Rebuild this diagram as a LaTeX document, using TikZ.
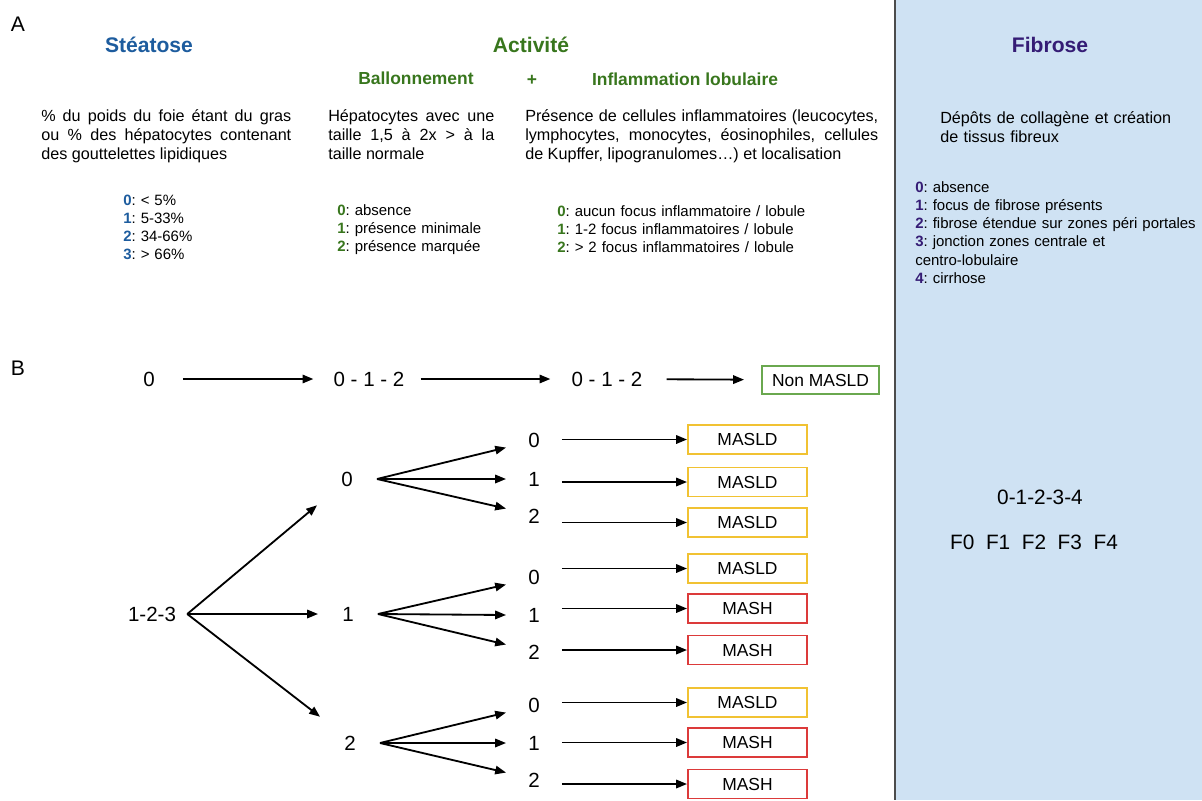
\documentclass[tikz,border=0pt]{standalone}
\usepackage{fontspec}
\setmainfont{Liberation Sans}
\usetikzlibrary{arrows.meta}
\frenchspacing

\definecolor{steablue}{HTML}{1D5C9E}
\definecolor{actgreen}{HTML}{38761D}
\definecolor{fibpurple}{HTML}{351C75}
\definecolor{panelblue}{HTML}{CFE2F3}
\definecolor{nonframe}{HTML}{6AA84F}
\definecolor{masldframe}{HTML}{F1C232}
\definecolor{mashframe}{HTML}{DC3A3A}
\newcommand{\grade}[2]{\textcolor{#1}{\textbf{#2}}}

\begin{document}
\begin{tikzpicture}[
 title/.style ={font=\fontsize{15}{18}\selectfont\bfseries, inner sep=0pt},
 subtitle/.style ={font=\fontsize{12.4}{15}\selectfont\bfseries, text=actgreen, inner sep=0pt},
 body/.style ={font=\fontsize{11.5}{13.7}\selectfont, inner sep=0pt, anchor=base west, align=justify},
 grades/.style ={font=\fontsize{10.65}{12.9}\selectfont, inner sep=0pt, anchor=base west, align=left, text width=8cm},
 score/.style ={font=\fontsize{14.6}{17}\selectfont, inner sep=0pt},
 branch/.style ={score, inner xsep=.6cm, minimum height=1.3cm},
 leaf/.style ={score, inner xsep=.55cm},
 verdict/.style ={font=\fontsize{12.4}{15}\selectfont, draw=#1, line width=1.4pt, minimum width=2.975cm, minimum height=.725cm, inner sep=0pt},
 lead/.style ={-{Triangle[length=.27cm,width=.21cm]}, line width=1.3pt}
 ]
\useasboundingbox (0,0) rectangle (30.05,-20);
%draw fibrose panel
\fill[panelblue] (22.375,0) rectangle (30.05,-20);
\draw[line width=1.3pt, draw=black!70] (22.375,0) -- (22.375,-20);
%draw part labels
\node[font=\fontsize{15}{18}\selectfont, inner sep=0pt] (partA) at (0.45,-0.6) {A};
\node[font=\fontsize{15}{18}\selectfont, inner sep=0pt] (partB) at (0.45,-9.2) {B};
%draw titles
\node[title, text=steablue] (steatose) at (3.725,-1.125) {Stéatose};
\node[title, text=actgreen] (activite) at (13.275,-1.125) {Activité};
\node[title, text=fibpurple] (fibrose) at (26.25,-1.125) {Fibrose};
\node[subtitle] (ballon) at (10.4,-1.95) {Ballonnement};
\node[subtitle] (plus) at (13.3,-2.0) {+};
\node[subtitle] (inflam) at (17.125,-1.975) {Inflammation lobulaire};
%draw descriptions
\node[body, text width=6.25cm] (steatext) at (1.025,-3.025) {\% du poids du foie étant du gras\linebreak ou \% des hépatocytes contenant\linebreak des gouttelettes lipidiques};
\node[body, text width=4.15cm] (ballontext) at (8.2,-3.025) {Hépatocytes avec une\linebreak taille 1,5 à 2x > à la\linebreak taille normale};
\node[body, text width=8.825cm] (inflamtext) at (13.125,-3.025) {Présence de cellules inflammatoires (leucocytes,\linebreak lymphocytes, monocytes, éosinophiles, cellules\linebreak de Kupffer, lipogranulomes…) et localisation};
\node[body, text width=6.4cm, align=left] (fibtext) at (23.5,-3.075) {Dépôts de collagène et création\\de tissus fibreux};
%draw grades
\node[grades] (steagrades) at (3.075,-5.1375) {\grade{steablue}{0}: < 5\%\\\grade{steablue}{1}: 5-33\%\\\grade{steablue}{2}: 34-66\%\\\grade{steablue}{3}: > 66\%};
\node[grades] (ballongrades) at (8.425,-5.3875) {\grade{actgreen}{0}: absence\\\grade{actgreen}{1}: présence minimale\\\grade{actgreen}{2}: présence marquée};
\node[grades] (inflamgrades) at (13.925,-5.4125) {\grade{actgreen}{0}: aucun focus inflammatoire / lobule\\\grade{actgreen}{1}: 1-2 focus inflammatoires / lobule\\\grade{actgreen}{2}: > 2 focus inflammatoires / lobule};
\node[grades, text width=7.2cm] (fibgrades) at (22.875,-4.8125) {\grade{fibpurple}{0}: absence\\\grade{fibpurple}{1}: focus de fibrose présents\\\grade{fibpurple}{2}: fibrose étendue sur zones péri portales\\\grade{fibpurple}{3}: jonction zones centrale et\\centro-lobulaire\\\grade{fibpurple}{4}: cirrhose};
%draw fibrose stages
\node[score, font=\fontsize{14.8}{17}\selectfont] (fibscale) at (26.0,-12.425) {0-1-2-3-4};
\node[score, font=\fontsize{14.8}{17}\selectfont] (fibstages) at (25.85,-13.55) {F0\ \ F1\ \ F2\ \ F3\ \ F4};
%draw path without steatosis
\node[score] (s0) at (3.725,-9.475) {0};
\node[score] (b012) at (9.225,-9.475) {0 - 1 - 2};
\node[score] (i012) at (15.175,-9.475) {0 - 1 - 2};
\node[verdict=nonframe, minimum width=2.925cm, minimum height=.7cm] (nonmasld) at (20.5125,-9.5) {Non MASLD};
\draw[lead, shorten <=.7cm, shorten >=.5cm] (s0) -- (b012);
\draw[lead, shorten <=.4cm, shorten >=.525cm] (b012) -- (i012);
\draw[lead, shorten <=.6cm, shorten >=.425cm] (i012) -- (nonmasld);
%draw steatosis root and ballooning branches
\node[score, inner xsep=.275cm] (s123) at (3.8,-15.35) {1-2-3};
\node[branch] (b0) at (8.675,-11.975) {0};
\node[branch] (b1) at (8.7,-15.35) {1};
\node[branch] (b2) at (8.75,-18.575) {2};
\draw[lead] (s123.east) -- (b0.south west);
\draw[lead] (s123.east) -- (b1.west);
\draw[lead] (s123.east) -- (b2.north west);
%draw inflammation leaves of branch 0
\node[leaf] (i00) at (13.35,-11.0) {0};
\node[leaf] (i01) at (13.35,-11.975) {1};
\node[leaf] (i02) at (13.35,-12.9) {2};
\draw[lead] (b0.east) -- (i00.south west);
\draw[lead] (b0.east) -- (i01.west);
\draw[lead] (b0.east) -- (i02.north west);
%draw inflammation leaves of branch 1
\node[leaf] (i10) at (13.35,-14.425) {0};
\node[leaf] (i11) at (13.35,-15.375) {1};
\node[leaf] (i12) at (13.35,-16.3) {2};
\draw[lead] (b1.east) -- (i10.south west);
\draw[lead] (b1.east) -- (i11.west);
\draw[lead] (b1.east) -- (i12.north west);
%draw inflammation leaves of branch 2
\node[leaf] (i20) at (13.35,-17.625) {0};
\node[leaf] (i21) at (13.35,-18.575) {1};
\node[leaf] (i22) at (13.35,-19.5) {2};
\draw[lead] (b2.east) -- (i20.south west);
\draw[lead] (b2.east) -- (i21.west);
\draw[lead] (b2.east) -- (i22.north west);
%draw verdicts
\node[verdict=masldframe] (v00) at (18.6875,-10.9875) {MASLD};
\node[verdict=masldframe] (v01) at (18.6875,-12.05) {MASLD};
\node[verdict=masldframe] (v02) at (18.6875,-13.0625) {MASLD};
\node[verdict=masldframe] (v10) at (18.6875,-14.2125) {MASLD};
\node[verdict=mashframe] (v11) at (18.6875,-15.2125) {MASH};
\node[verdict=mashframe] (v12) at (18.6875,-16.25) {MASH};
\node[verdict=masldframe] (v20) at (18.6875,-17.5625) {MASLD};
\node[verdict=mashframe] (v21) at (18.6875,-18.5625) {MASH};
\node[verdict=mashframe] (v22) at (18.6875,-19.6) {MASH};
%draw leaf to verdict arrows
\draw[lead] (i00.east |- v00.west) -- (v00.west);
\draw[lead] (i01.east |- v01.west) -- (v01.west);
\draw[lead] (i02.east |- v02.west) -- (v02.west);
\draw[lead] (i10.east |- v10.west) -- (v10.west);
\draw[lead] (i11.east |- v11.west) -- (v11.west);
\draw[lead] (i12.east |- v12.west) -- (v12.west);
\draw[lead] (i20.east |- v20.west) -- (v20.west);
\draw[lead] (i21.east |- v21.west) -- (v21.west);
\draw[lead] (i22.east |- v22.west) -- (v22.west);
\end{tikzpicture}
\end{document}
